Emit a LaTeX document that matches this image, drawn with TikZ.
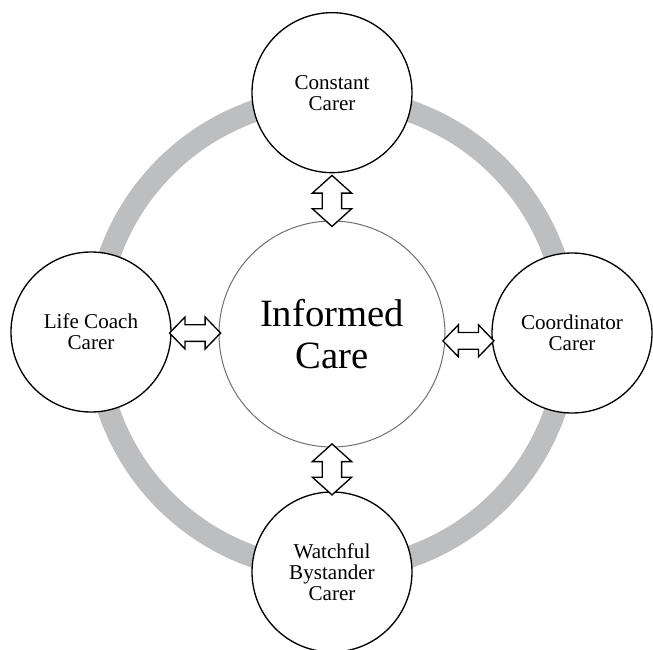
\documentclass[tikz,border=0pt]{standalone}
\usepackage{fontspec}
\setmainfont{Liberation Serif}
\usetikzlibrary{shapes.arrows,calc}

\definecolor{ringgray}{RGB}{189,190,192}
\definecolor{rimgray}{RGB}{110,111,114}

\tikzset{
	carer/.style={circle, draw, line width=0.4mm, fill=white, minimum size=48mm, inner sep=0pt, align=center, font=\fontsize{18}{18}\selectfont},
	core/.style={circle, draw=rimgray, line width=0.3mm, fill=white, minimum size=67.8mm, inner sep=0pt, align=center, font=\fontsize{33}{35.5}\selectfont},
	vlink/.style={double arrow, draw, line width=0.4mm, fill=white, rotate=90, inner sep=0pt, inner ysep=2.7mm, minimum height=15.3mm, double arrow head extend=3mm, double arrow tip angle=96},
	hlink/.style={double arrow, draw, line width=0.4mm, fill=white, inner sep=0pt, inner ysep=2.3mm, minimum height=15.3mm, double arrow head extend=2.3mm, double arrow tip angle=92}
}

\begin{document}
\begin{tikzpicture}[]
	%\draw[help lines] (-99.6mm,-94.5mm) grid (96.3mm,100.2mm);
	\useasboundingbox (-99.6mm,-94.5mm) rectangle (96.3mm,100.2mm);
	\draw[ringgray, line width=6.6mm] (0,0) circle [radius=70.8mm];
	\node[core] (care) at (0,0) {Informed\\Care};
	\node[carer] (constant) at (0,72.4mm) {Constant\\Carer};
	\node[carer] (coach) at (-72.3mm,0.6mm) {Life Coach\\Carer};
	\node[carer] (coordinator) at (72mm,0.3mm) {Coordinator\\Carer};
	\node[carer] (watchful) at (0,-71.4mm) {Watchful\\Bystander\\Carer};
	\node[vlink, xshift=-1.2mm] (toconstant) at ($(constant.south)!0.5!(care.north)$) {};
	\node[vlink] (towatchful) at ($(care.south)!0.5!(watchful.north)$) {};
	\node[hlink] (tocoach) at ($(coach.east)!0.5!(care.west)$) {};
	\node[hlink, yshift=-2.2mm] (tocoordinator) at ($(care.east)!0.5!(coordinator.west)$) {};
\end{tikzpicture}
\end{document}
